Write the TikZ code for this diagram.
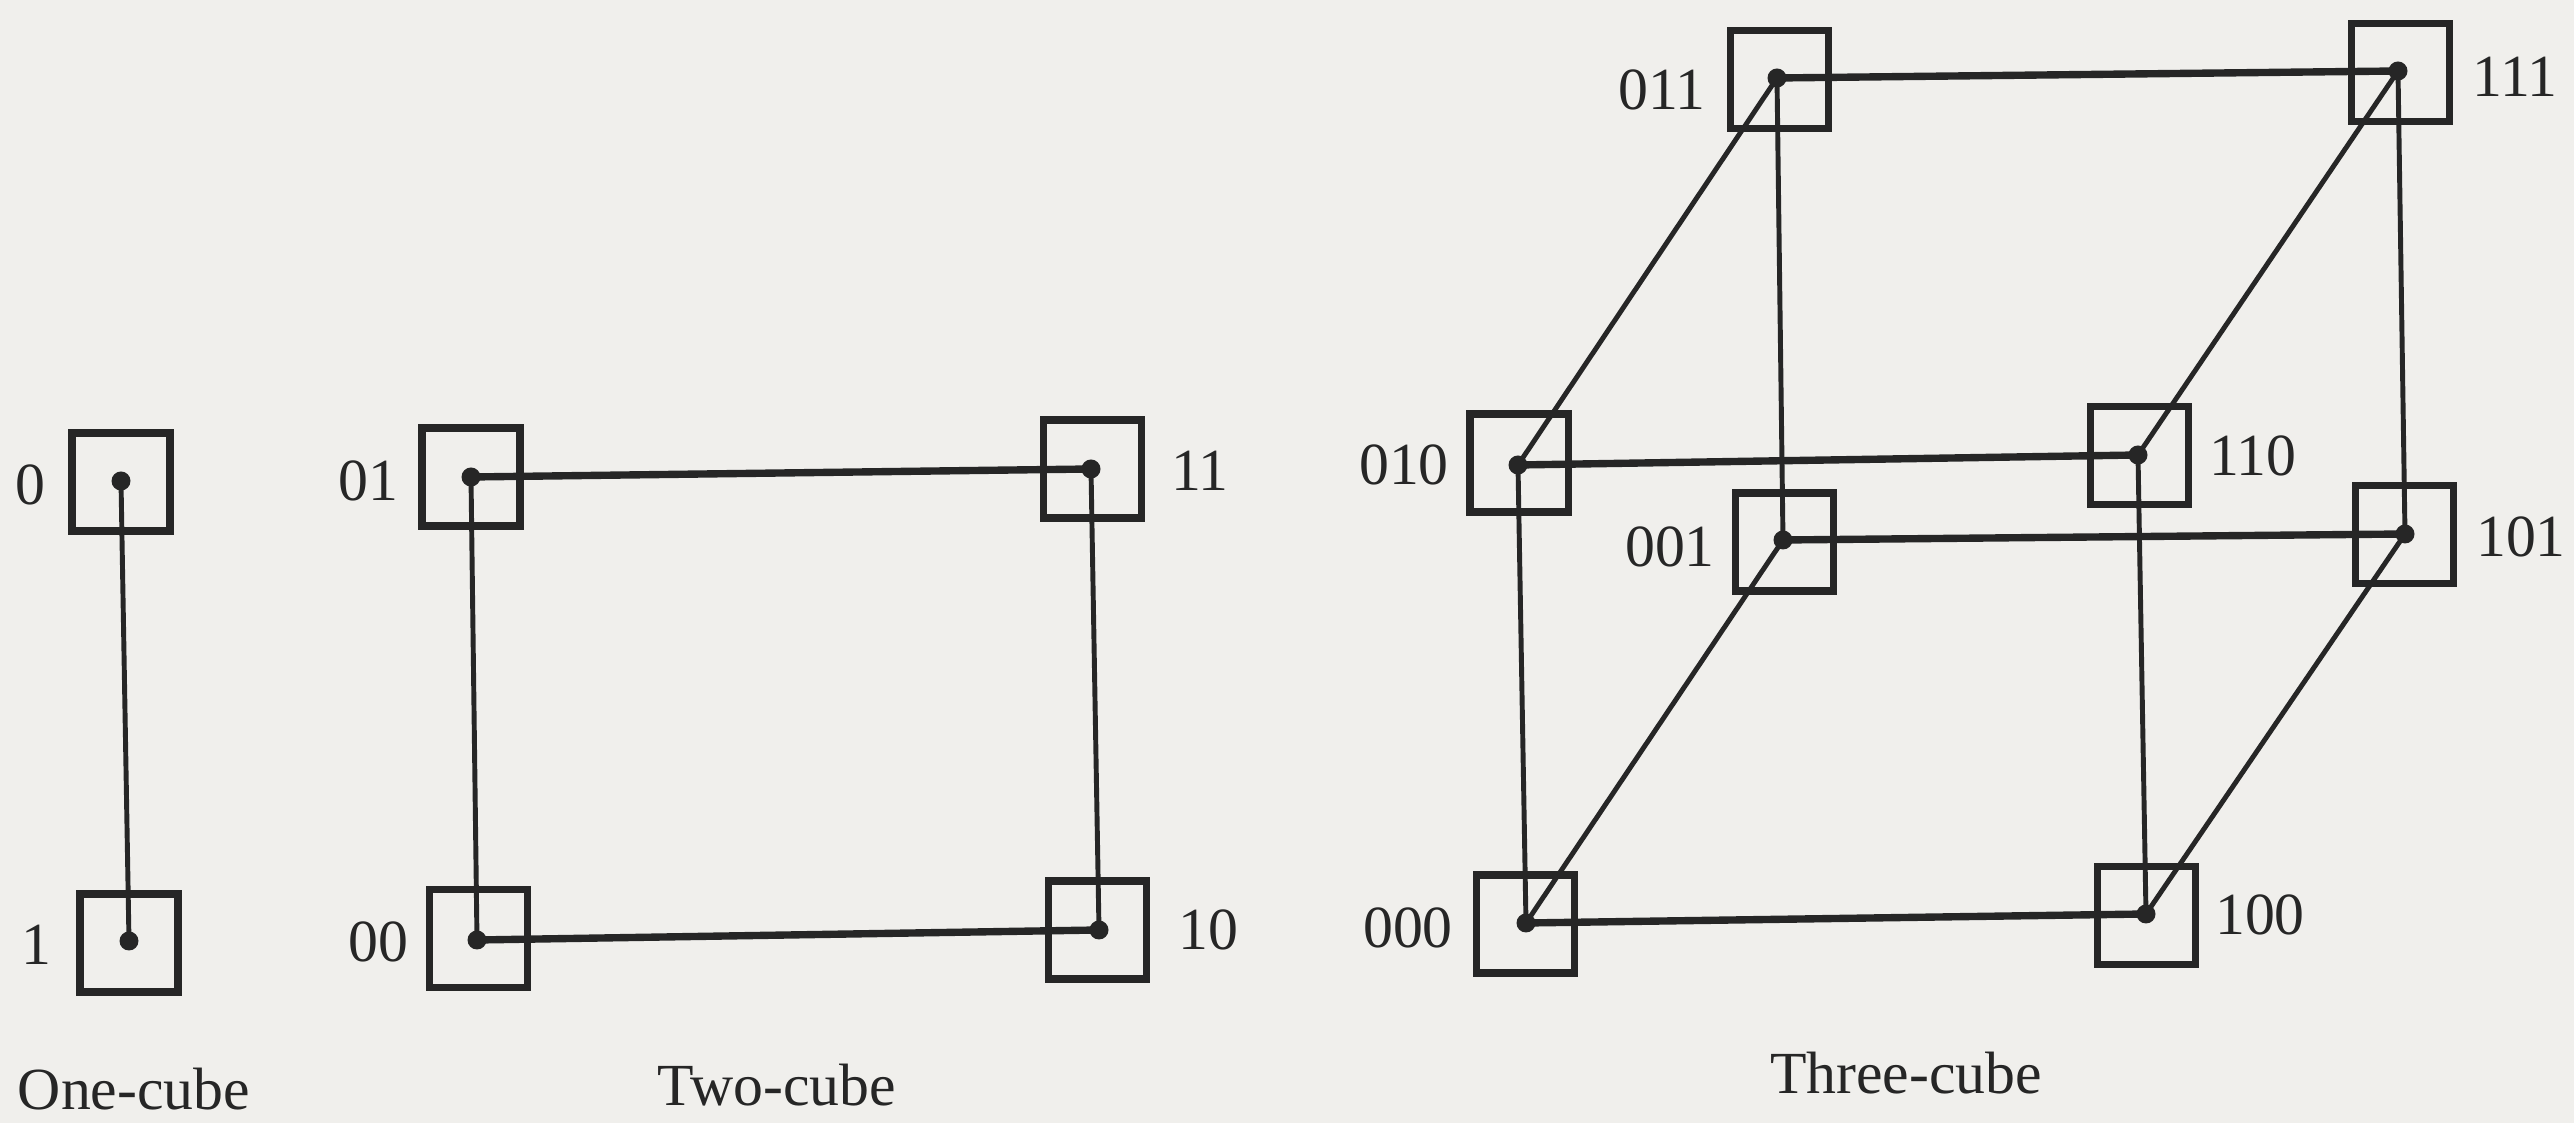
\documentclass[tikz,border=0pt]{standalone}
\usepackage{fontspec}
\setmainfont{Liberation Serif}
\definecolor{paper}{RGB}{240,239,236}
\definecolor{ink}{RGB}{38,38,38}
\begin{document}
\begin{tikzpicture}[
  pe/.style={draw=ink, line width=2.0pt, minimum width=0.98cm, minimum height=0.98cm, inner sep=0pt},
  dotnode/.style={circle, fill=ink, inner sep=0pt, minimum size=0.19cm},
  lab/.style={text=ink, inner sep=0pt, font=\fontsize{17}{19}\selectfont},
  hlink/.style={draw=ink, line width=2.1pt},
  vlink/.style={draw=ink, line width=1.4pt}
]
\fill[paper] (0,0) rectangle (25.74,11.23);
\useasboundingbox (0,0) rectangle (25.74,11.23);

% boxes
\node[pe] (b0) at (1.21,6.41) {};
\node[pe] (b1) at (1.29,1.80) {};
\node[pe] (b01) at (4.71,6.46) {};
\node[pe] (b00) at (4.785,1.845) {};
\node[pe] (b11) at (10.925,6.54) {};
\node[pe] (b10) at (10.975,1.93) {};
\node[pe] (b011) at (17.79,10.43) {};
\node[pe] (b111) at (24.00,10.505) {};
\node[pe] (b010) at (15.19,6.60) {};
\node[pe] (b110) at (21.39,6.675) {};
\node[pe] (b001) at (17.84,5.81) {};
\node[pe] (b101) at (24.045,5.885) {};
\node[pe] (b000) at (15.255,1.99) {};
\node[pe] (b100) at (21.465,2.075) {};

% dots
\node[dotnode] (d0) at (1.21,6.42) {};
\node[dotnode] (d1) at (1.29,1.82) {};
\node[dotnode] (d01) at (4.71,6.46) {};
\node[dotnode] (d00) at (4.77,1.83) {};
\node[dotnode] (d11) at (10.91,6.54) {};
\node[dotnode] (d10) at (10.99,1.93) {};
\node[dotnode] (d011) at (17.77,10.45) {};
\node[dotnode] (d111) at (23.98,10.52) {};
\node[dotnode] (d010) at (15.18,6.58) {};
\node[dotnode] (d110) at (21.38,6.68) {};
\node[dotnode] (d001) at (17.83,5.83) {};
\node[dotnode] (d101) at (24.05,5.89) {};
\node[dotnode] (d000) at (15.26,2.00) {};
\node[dotnode] (d100) at (21.46,2.09) {};

% one-cube
\draw[vlink] (d0.center) -- (d1.center);
% two-cube
\draw[hlink] (d01.center) -- (d11.center);
\draw[hlink] (d00.center) -- (d10.center);
\draw[vlink] (d01.center) -- (d00.center);
\draw[vlink] (d11.center) -- (d10.center);
% three-cube
\draw[hlink] (d011.center) -- (d111.center);
\draw[hlink] (d010.center) -- (d110.center);
\draw[hlink] (d001.center) -- (d101.center);
\draw[hlink] (d000.center) -- (d100.center);
\draw[vlink] (d011.center) -- (d010.center);
\draw[vlink] (d111.center) -- (d110.center);
\draw[vlink] (d001.center) -- (d000.center);
\draw[vlink] (d101.center) -- (d100.center);
\draw[vlink] (d011.center) -- (d001.center);
\draw[vlink] (d111.center) -- (d101.center);
\draw[vlink] (d010.center) -- (d000.center);
\draw[vlink] (d110.center) -- (d100.center);

% labels
\node[lab] (l0) at (0.30,6.38) {0};
\node[lab] (l1) at (0.36,1.78) {1};
\node[lab] (l01) at (3.68,6.42) {01};
\node[lab] (l00) at (3.78,1.81) {00};
\node[lab] (l11) at (12.00,6.52) {11};
\node[lab] (l10) at (12.08,1.93) {10};
\node[lab] (l011) at (16.62,10.33) {011};
\node[lab] (l111) at (25.15,10.46) {111};
\node[lab] (l010) at (14.04,6.58) {010};
\node[lab] (l110) at (22.53,6.67) {110};
\node[lab] (l001) at (16.70,5.76) {001};
\node[lab] (l101) at (25.21,5.86) {101};
\node[lab] (l000) at (14.08,1.95) {000};
\node[lab] (l100) at (22.60,2.08) {100};

% captions
\node[lab] (c1) at (1.34,0.34) {One-cube};
\node[lab] (c2) at (7.77,0.38) {Two-cube};
\node[lab] (c3) at (19.06,0.50) {Three-cube};
\end{tikzpicture}
\end{document}
